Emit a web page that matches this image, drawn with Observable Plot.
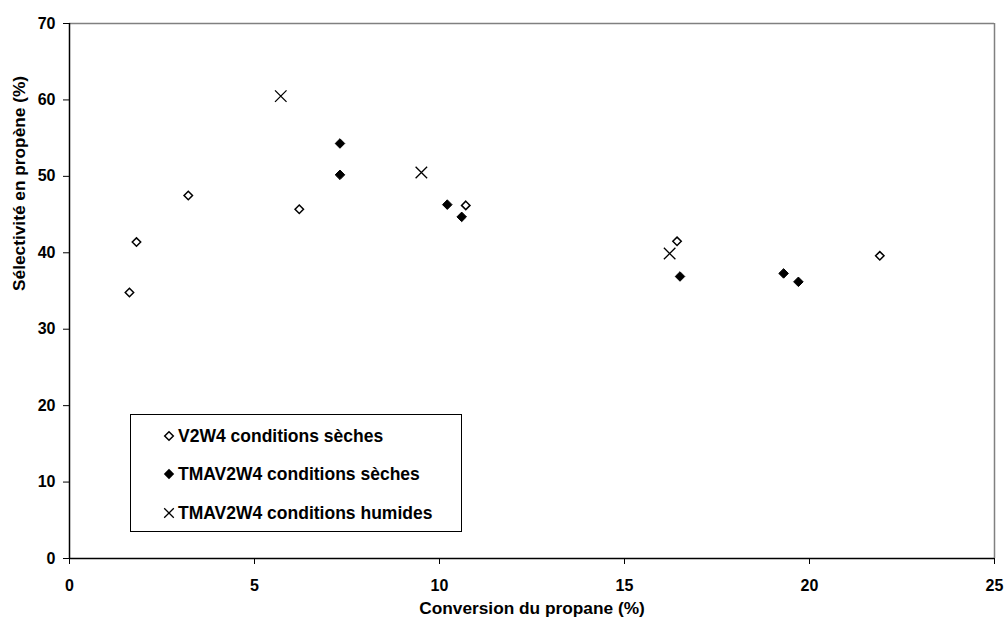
<!DOCTYPE html>
<html>
<head>
<meta charset="utf-8">
<script src="https://cdn.jsdelivr.net/npm/d3@7"></script>
<script src="https://cdn.jsdelivr.net/npm/@observablehq/plot@0.6"></script>
<style>
  html, body { margin: 0; padding: 0; background: #fff; }
  #wrap { position: relative; width: 1007px; height: 623px; font-family: "Liberation Sans", Arial, sans-serif; }
  #legend { position: absolute; left: 130px; top: 414px; width: 332px; height: 118px; border: 1px solid #000; box-sizing: border-box; background: #fff; font-weight: bold; font-size: 17.5px; }
  #legend .item { position: absolute; left: 32px; height: 20px; line-height: 20px; display: flex; align-items: center; white-space: nowrap; }
  #legend svg { margin-right: 3px; }
</style>
</head>
<body>
<div id="wrap"></div>
<script>
// Data
const v2w4Conv = [1.62, 1.81, 3.21, 6.21, 10.71, 16.42, 21.9];
const v2w4Sel  = [34.8, 41.4, 47.5, 45.7, 46.2, 41.5, 39.6];
const tmaSecConv = [7.31, 7.31, 10.21, 10.6, 16.5, 19.3, 19.7];
const tmaSecSel  = [54.3, 50.2, 46.3, 44.7, 36.9, 37.3, 36.2];
const tmaHumConv = [5.71, 9.51, 16.22];
const tmaHumSel  = [60.5, 50.5, 39.9];
const seriesNames = ["V2W4 conditions sèches", "TMAV2W4 conditions sèches", "TMAV2W4 conditions humides"];
const xTitle = "Conversion du propane (%)";
const yTitle = "Sélectivité en propène (%)";
const xTicks = [0, 5, 10, 15, 20, 25];
const yTicks = [0, 10, 20, 30, 40, 50, 60, 70];

const toRows = (xs, ys) => xs.map((x, i) => ({x, y: ys[i]}));
const open = toRows(v2w4Conv, v2w4Sel);
const filled = toRows(tmaSecConv, tmaSecSel);
const humid = toRows(tmaHumConv, tmaHumSel);

const chart = Plot.plot({
  width: 1007,
  height: 623,
  marginLeft: 69,
  marginRight: 13,
  marginTop: 23,
  marginBottom: 65,
  style: { fontFamily: "Liberation Sans, Arial, sans-serif", fontWeight: "bold", fontSize: "16px", color: "#000", background: "#fff", overflow: "visible" },
  x: { domain: [0, 25], label: null },
  y: { domain: [0, 70], label: null },
  marks: [
    Plot.ruleY([70], { stroke: "#808080", strokeWidth: 1.5 }),
    Plot.ruleX([25], { stroke: "#808080", strokeWidth: 1.5 }),
    Plot.ruleX([0], { stroke: "#000", strokeWidth: 1.5 }),
    Plot.ruleY([0], { stroke: "#000", strokeWidth: 1.5 }),
    Plot.axisX({ ticks: xTicks, tickSize: 6, tickPadding: 15, label: null, fontSize: 16, fontWeight: "bold" }),
    Plot.axisY({ ticks: yTicks, tickSize: 6, tickPadding: 8, label: null, fontSize: 16, fontWeight: "bold" }),
    Plot.text([xTitle], { frameAnchor: "bottom", dy: 55, fontSize: 17.3, fontWeight: "bold", fill: "#000" }),
    Plot.text([yTitle], { frameAnchor: "left", rotate: -90, dx: -50, fontSize: 17.3, fontWeight: "bold", fill: "#000" }),
    Plot.dot(open, { x: "x", y: "y", symbol: "diamond2", r: 3.8, stroke: "#000", strokeWidth: 1.5, fill: "#fff" }),
    Plot.dot(filled, { x: "x", y: "y", symbol: "diamond2", r: 4.3, stroke: "#000", strokeWidth: 1, fill: "#000" }),
    Plot.dot(humid, { x: "x", y: "y", symbol: "times", r: 5.3, stroke: "#000", strokeWidth: 1.3 })
  ]
});
document.getElementById("wrap").appendChild(chart);

// Legend (HTML overlay inside plot area)
const legend = document.createElement("div");
legend.id = "legend";
const symbols = [
  '<svg width="12" height="12" viewBox="-6 -6 12 12"><path d="M0,-4.3L4.3,0L0,4.3L-4.3,0Z" fill="#fff" stroke="#000" stroke-width="1.5"/></svg>',
  '<svg width="12" height="12" viewBox="-6 -6 12 12"><path d="M0,-5.2L5.2,0L0,5.2L-5.2,0Z" fill="#000"/></svg>',
  '<svg width="12" height="12" viewBox="-6 -6 12 12"><path d="M-4.8,-4.8L4.8,4.8M-4.8,4.8L4.8,-4.8" stroke="#000" stroke-width="1.3"/></svg>'
];
const tops = [11, 49, 88];
seriesNames.forEach((name, i) => {
  const d = document.createElement("div");
  d.className = "item";
  d.style.top = tops[i] + "px";
  d.innerHTML = symbols[i] + "<span>" + name + "</span>";
  legend.appendChild(d);
});
document.getElementById("wrap").appendChild(legend);
</script>
</body>
</html>
